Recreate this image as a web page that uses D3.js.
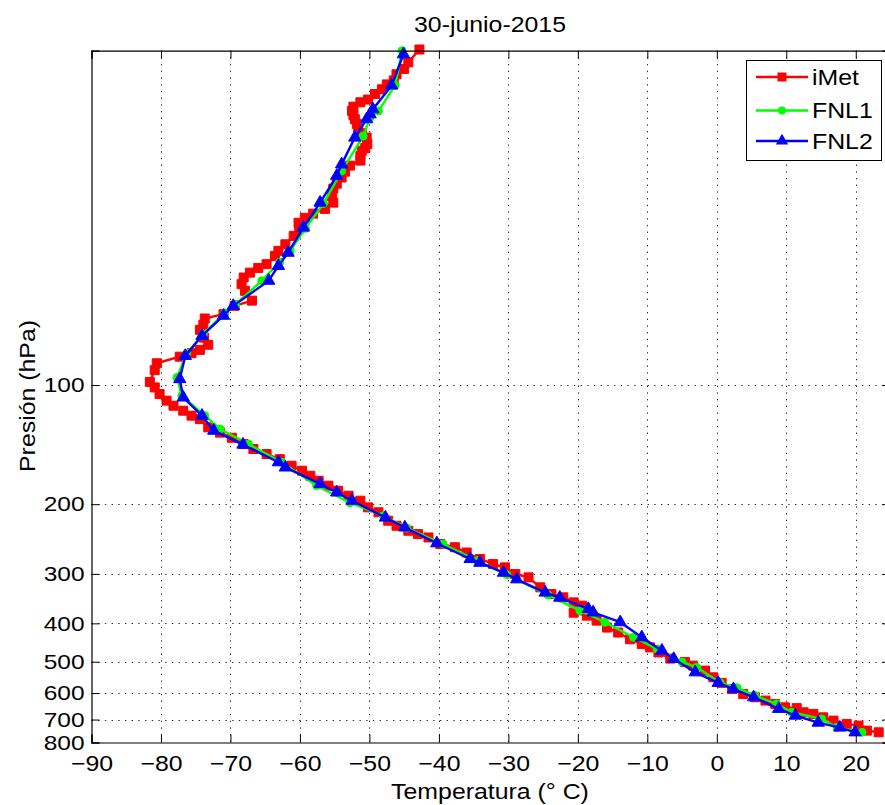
<!DOCTYPE html>
<html>
<head>
<meta charset="utf-8">
<script src="https://cdn.jsdelivr.net/npm/d3@7"></script>
<style>
  html, body { margin: 0; padding: 0; background: #fff; }
  svg { display: block; font-family: "Liberation Sans", Arial, Helvetica, sans-serif; }
</style>
</head>
<body>
<svg id="chart" width="885" height="805"></svg>
<script>
// Radiosonde profile (iMet) vs. two FNL analyses: temperature (°C) against pressure (hPa)
const tempIMet = [-42.8,-44.4,-45.0,-46.1,-46.5,-47.5,-48.2,-49.2,-50.2,-51.3,-52.3,-52.5,-52.3,-52.1,-51.8,-51.6,-51.1,-50.4,-50.3,-50.6,
  -51.1,-51.3,-51.3,-52.8,-53.5,-54.0,-54.7,-55.2,-55.4,-55.2,-56.4,-58.1,-59.3,-60.2,-60.1,-60.9,-62.1,-63.1,-63.6,-64.8,
  -66.0,-67.2,-68.1,-68.4,-67.9,-66.9,-69.4,-71.0,-73.7,-73.9,-74.4,-73.8,-73.2,-74.4,-75.6,-77.3,-80.6,-80.9,-81.6,-80.9,
  -80.2,-79.2,-78.2,-76.8,-75.6,-74.4,-73.2,-71.5,-69.8,-68.1,-66.7,-64.8,-62.9,-61.2,-59.7,-58.5,-57.3,-55.9,-54.5,-53.0,
  -51.3,-50.2,-48.7,-47.3,-46.1,-44.4,-43.0,-41.5,-39.8,-37.7,-36.0,-34.1,-32.2,-30.5,-29.0,-27.1,-25.4,-23.8,-22.1,-20.6,
  -19.4,-20.6,-18.7,-17.3,-15.8,-14.2,-12.5,-10.8,-9.6,-8.4,-6.7,-4.6,-3.4,-1.7,-0.5,0.7,2.2,3.8,5.5,7.0,
  8.4,9.8,11.5,12.5,13.9,15.3,16.8,18.7,20.4,21.6,23.3];
const presIMet = [14.2,15.3,15.9,16.4,17.0,17.4,17.9,18.4,19.0,19.3,19.8,20.3,20.8,21.3,21.9,22.6,23.1,23.7,24.6,25.2,
  25.6,26.4,27.1,27.9,28.9,29.9,31.0,31.9,33.3,34.6,35.9,36.9,37.8,38.9,40.2,42.0,44.1,45.8,47.2,49.5,
  50.6,52.0,53.5,55.6,57.8,61.2,63.1,66.2,67.9,70.4,72.5,75.9,79.1,81.5,83.1,84.8,88.1,91.7,98.2,101.4,
  105.4,109.5,112.8,116.1,119.5,121.9,127.9,131.9,135.9,141.0,145.1,149.4,153.9,159.9,164.6,169.5,174.5,179.6,184.9,190.4,
  196.0,203.7,209.6,220.2,226.7,233.4,238.0,242.7,252.1,256.9,264.9,275.1,283.2,288.8,300.2,306.1,324.4,337.2,343.8,354.0,
  360.9,376.0,382.5,393.7,409.9,422.0,438.8,451.4,460.1,473.8,491.0,500.7,511.5,526.6,547.5,565.5,586.3,603.2,614.9,626.9,
  639.2,651.8,655.0,671.0,677.5,690.9,704.3,718.1,725.1,746.5,753.9];

const tempFNL1 = [-45.3,-46.3,-48.7,-49.9,-50.9,-54.0,-56.6,-59.2,-61.4,-62.9,-65.5,-69.2,-70.8,-73.9,-76.3,-77.7,-77.0,-73.7,-71.5,-67.4,
  -62.6,-57.6,-52.8,-48.0,-44.6,-39.4,-34.5,-30.2,-24.3,-19.7,-16.1,-12.0,-8.6,-5.0,-2.9,0.5,2.9,5.5,8.6,10.8,
  15.1,17.3,20.9];
const presFNL1 = [14.3,17.5,20.3,21.1,23.5,28.8,34.8,40.2,45.8,48.9,54.5,62.4,65.7,74.3,83.2,95.7,106.4,119.5,129.1,141.0,
  156.7,179.6,198.3,213.9,229.8,252.1,277.8,301.5,339.0,371.5,397.4,433.7,464.2,500.7,516.6,565.5,581.7,609.0,639.2,671.0,
  697.4,732.3,754.0];

const tempFNL2 = [-45.1,-46.8,-49.5,-49.9,-50.4,-52.1,-54.0,-54.7,-57.1,-59.5,-61.7,-63.1,-64.5,-69.6,-71.0,-74.1,-76.5,-77.3,-76.8,-74.1,
  -72.4,-68.2,-63.1,-62.1,-57.1,-54.7,-52.5,-47.7,-44.9,-40.3,-35.5,-34.1,-30.7,-28.8,-24.7,-22.6,-18.5,-17.8,-13.9,-10.8,
  -7.9,-6.2,-3.1,0.2,2.4,5.3,8.9,11.3,14.6,17.7,19.9];
const presFNL2 = [14.6,17.5,20.1,20.7,21.3,23.7,27.7,29.6,34.6,40.0,46.3,50.0,54.5,63.1,66.8,75.1,84.4,96.6,107.5,119.5,
  130.4,141.4,156.7,161.5,177.7,186.8,196.0,216.1,229.0,251.0,275.1,281.1,297.9,309.6,334.4,344.5,367.9,375.2,397.4,433.7,
  468.8,492.0,531.8,565.5,586.3,614.9,657.7,684.1,712.6,733.4,754.0];

const xTicks = [-90,-80,-70,-60,-50,-40,-30,-20,-10,0,10,20];
const yTicks = [100,200,300,400,500,600,700,800];
const seriesNames = ["iMet", "FNL1", "FNL2"];
const seriesColors = ["#ff0000", "#00ff00", "#0000ff"];

const titleText = "30-junio-2015";
const xLabel = "Temperatura (\u00b0 C)";
const yLabel = "Presi\u00f3n (hPa)";

// Layout
const m = { left: 91.5, right: 890.5, top: 50.7, bottom: 742.5 };
const FS = 22;        // font size
const FSY = 21;       // pressure tick labels (tightly spaced near the surface)
const SX = 1.13;      // horizontal glyph stretch

const svg = d3.select("#chart");

const x = d3.scaleLinear().domain([-90, 25]).range([m.left, m.right]);
const y = d3.scaleLog().domain([14.3, 800]).range([m.top, m.bottom]);

function stretchText(sel, k) {
  sel.each(function () {
    const t = d3.select(this);
    const tx = +t.attr("x") || 0;
    t.attr("transform", `translate(${tx},0) scale(${k},1) translate(${-tx},0)`);
  });
}

// Dotted grid
const grid = svg.append("g").attr("stroke", "#222").attr("stroke-width", 1)
  .attr("stroke-dasharray", "1.3,5.4");
grid.selectAll("line.gx").data(xTicks.slice(1)).join("line")
  .attr("x1", d => Math.round(x(d)) + 0.5).attr("x2", d => Math.round(x(d)) + 0.5)
  .attr("y1", m.top).attr("y2", m.bottom);
grid.selectAll("line.gy").data(yTicks.slice(0, -1)).join("line")
  .attr("y1", d => Math.round(y(d)) + 0.5).attr("y2", d => Math.round(y(d)) + 0.5)
  .attr("x1", m.left).attr("x2", m.right);

// Series
const series = [
  { name: seriesNames[0], t: tempIMet, p: presIMet, color: seriesColors[0], marker: "square" },
  { name: seriesNames[1], t: tempFNL1, p: presFNL1, color: seriesColors[1], marker: "circle" },
  { name: seriesNames[2], t: tempFNL2, p: presFNL2, color: seriesColors[2], marker: "triangle" }
];

const symbols = {
  square: d3.symbol().type(d3.symbolSquare).size(81),
  circle: d3.symbol().type(d3.symbolCircle).size(50),
  triangle: d3.symbol().type(d3.symbolTriangle).size(66)
};

const line = d3.line().x(d => x(d[0])).y(d => y(d[1]));

series.forEach(s => {
  const pts = s.t.map((t, i) => [t, s.p[i]]);
  const g = svg.append("g");
  g.append("path").datum(pts).attr("d", line)
    .attr("fill", "none").attr("stroke", s.color).attr("stroke-width", 2.4)
    .attr("stroke-linejoin", "round");
  g.selectAll("path.mk").data(pts).join("path").attr("class", "mk")
    .attr("d", symbols[s.marker])
    .attr("transform", d => `translate(${x(d[0])},${y(d[1])})`)
    .attr("fill", s.color).attr("stroke", s.color).attr("stroke-width", 1);
});

// Axes (MATLAB style, ticks pointing inward)
const axBottom = svg.append("g").attr("transform", `translate(0,${m.bottom})`)
  .call(d3.axisBottom(x).tickValues(xTicks).tickSize(-8).tickPadding(13).tickFormat(d3.format("d")));
const axTop = svg.append("g").attr("transform", `translate(0,${m.top})`)
  .call(d3.axisTop(x).tickValues(xTicks).tickSize(-8).tickFormat(""));
const axLeft = svg.append("g").attr("transform", `translate(${m.left},0)`)
  .call(d3.axisLeft(y).tickValues(yTicks).tickSize(-8).tickPadding(7).tickFormat(d3.format("d")));
const axRight = svg.append("g").attr("transform", `translate(${m.right},0)`)
  .call(d3.axisRight(y).tickValues(yTicks).tickSize(-8).tickFormat(""));

[axBottom, axTop, axLeft, axRight].forEach(a => {
  a.select(".domain").attr("stroke", "#000").attr("stroke-width", 1.2);
  a.selectAll(".tick line").attr("stroke", "#000").attr("stroke-width", 1);
  a.selectAll(".tick text").attr("font-size", FS).attr("fill", "#000")
    .attr("font-family", "Liberation Sans, Arial, sans-serif");
});
axLeft.selectAll(".tick text").attr("font-size", FSY);
axBottom.selectAll(".tick text").call(stretchText, SX);
axLeft.selectAll(".tick text").call(stretchText, SX * FS / FSY * 0.985);

// Title and axis labels
svg.append("text").attr("x", 490).attr("y", 32).attr("text-anchor", "middle")
  .attr("font-size", FS).attr("transform", `translate(490,0) scale(${SX},1) translate(-490,0)`)
  .text(titleText);
svg.append("text").attr("text-anchor", "middle").attr("font-size", FS)
  .attr("transform", `translate(490,799) scale(${SX},1)`)
  .text(xLabel);
svg.append("text").attr("text-anchor", "middle").attr("font-size", FS)
  .attr("transform", `translate(35,396) rotate(-90) scale(${SX},1)`)
  .text(yLabel);

// Legend
const lg = svg.append("g");
lg.append("rect").attr("x", 746.5).attr("y", 60.5).attr("width", 135).attr("height", 100)
  .attr("fill", "#fff").attr("stroke", "#000").attr("stroke-width", 1);
series.forEach((s, i) => {
  const ly = [77, 110.5, 141][i];
  lg.append("line").attr("x1", 756).attr("x2", 808).attr("y1", ly).attr("y2", ly)
    .attr("stroke", s.color).attr("stroke-width", 2.4);
  lg.append("path").attr("d", symbols[s.marker])
    .attr("transform", `translate(782,${ly})`).attr("fill", s.color);
  lg.append("text").attr("x", 812).attr("y", ly + 8).attr("font-size", FS)
    .attr("transform", `translate(812,0) scale(${SX},1) translate(-812,0)`)
    .text(s.name);
});
</script>
</body>
</html>
